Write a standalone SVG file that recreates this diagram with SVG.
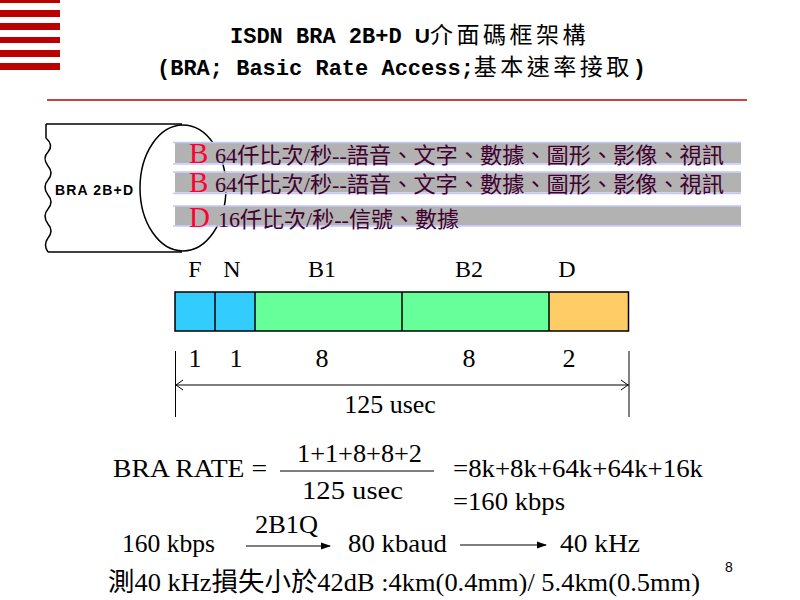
<svg xmlns="http://www.w3.org/2000/svg" width="800" height="600" viewBox="0 0 800 600">
<style>
.mono{font-family:"Liberation Mono","DejaVu Sans Mono",monospace;font-weight:bold;font-size:22px;fill:#000}
.cjk{font-family:"Noto Sans CJK TC","Noto Sans CJK SC",sans-serif;font-weight:normal}
.ser{font-family:"Liberation Serif","Noto Sans CJK TC",serif;fill:#000}
.bar{fill:#b2b2b2}
.barline{stroke:#c4c4ff;stroke-width:1.5}
.bartxt{font-family:"Liberation Serif","Noto Sans CJK TC",serif;font-size:22px;fill:#400030}
.red{font-family:"Liberation Serif",serif;font-size:29px;fill:#ff0033}
.ln{stroke:#000;stroke-width:1.5;fill:none}
.thin{stroke:#000;stroke-width:1;fill:none}
</style>
<defs>
<marker id="ah" markerWidth="10" markerHeight="8" refX="9" refY="4" orient="auto" markerUnits="userSpaceOnUse">
<path d="M0,0.5 L10,4 L0,7.5 Z" fill="#000"/>
</marker>
</defs>
<g id="stripes" fill="#bb0000">
<rect x="0" y="0" width="60" height="3"/>
<rect x="0" y="10" width="60" height="7"/>
<rect x="0" y="23" width="60" height="7"/>
<rect x="0" y="37" width="60" height="6"/>
<rect x="0" y="50" width="60" height="7"/>
<rect x="0" y="63" width="60" height="7"/>
</g>
<g id="title">
<text class="mono" x="230" y="43">ISDN BRA 2B+D <tspan font-family="Liberation Sans,sans-serif" font-size="21">U</tspan><tspan class="cjk" font-size="23" letter-spacing="3.5">介面碼框架構</tspan></text>
<text class="mono" x="157" y="75">(BRA; Basic Rate Access;<tspan class="cjk" font-size="23" letter-spacing="3.5">基本速率接取</tspan>)</text>
<line x1="47" y1="100" x2="747" y2="100" stroke="#c00000" stroke-width="1.5"/>
</g>
<g id="cable">
<line class="ln" x1="46" y1="124" x2="182" y2="124" stroke-width="2"/>
<line class="ln" x1="48" y1="252" x2="182" y2="252" stroke-width="2"/>
<path class="ln" d="M46,124 L46,138 Q54,145 48,152 Q42,158 48,166 Q54,173 48,180 Q42,187 48,195 Q54,202 48,209 Q42,216 48,224 Q54,231 48,238 Q43,245 48,252"/>
<ellipse class="ln" cx="183" cy="188" rx="43" ry="63" stroke-width="2"/>
<text x="55" y="195" font-family="Liberation Sans,Arial,sans-serif" font-weight="bold" font-size="14" letter-spacing="1" textLength="79" lengthAdjust="spacing">BRA 2B+D</text>
</g>
<g id="channels">
<rect class="bar" x="175" y="143" width="566" height="20"/>
<line class="barline" x1="173" y1="142.5" x2="741" y2="142.5"/>
<line class="barline" x1="173" y1="164" x2="741" y2="164"/>
<rect class="bar" x="175" y="172.5" width="566" height="20"/>
<line class="barline" x1="173" y1="172" x2="741" y2="172"/>
<line class="barline" x1="173" y1="193.5" x2="741" y2="193.5"/>
<rect class="bar" x="175" y="206" width="566" height="19.5"/>
<line class="barline" x1="173" y1="206" x2="741" y2="206"/>
<line class="barline" x1="173" y1="226" x2="741" y2="226"/>
<text class="red" x="189" y="163">B</text>
<text class="bartxt" x="215" y="163" textLength="509" lengthAdjust="spacingAndGlyphs">64仟比次/秒--語音、文字、數據、圖形、影像、視訊</text>
<text class="red" x="189" y="192">B</text>
<text class="bartxt" x="215" y="192" textLength="509" lengthAdjust="spacingAndGlyphs">64仟比次/秒--語音、文字、數據、圖形、影像、視訊</text>
<text class="red" x="189" y="227">D</text>
<text class="bartxt" x="218" y="227" textLength="241" lengthAdjust="spacingAndGlyphs">16仟比次/秒--信號、數據</text>
</g>
<g id="frame">
<rect x="175" y="292" width="40" height="39" fill="#33ccff"/>
<rect x="215" y="292" width="40" height="39" fill="#33ccff"/>
<rect x="255" y="292" width="147" height="39" fill="#66ff99"/>
<rect x="402" y="292" width="147" height="39" fill="#66ff99"/>
<rect x="549" y="292" width="79.5" height="39" fill="#ffcc66"/>
<rect class="ln" x="175" y="292" width="453.5" height="39"/>
<line class="ln" x1="215" y1="292" x2="215" y2="331"/>
<line class="ln" x1="255" y1="292" x2="255" y2="331"/>
<line class="ln" x1="402" y1="292" x2="402" y2="331"/>
<line class="ln" x1="549" y1="292" x2="549" y2="331"/>
<g class="ser" font-size="24" text-anchor="middle">
<text x="195" y="277">F</text>
<text x="232" y="277">N</text>
<text x="322" y="277">B1</text>
<text x="469" y="277">B2</text>
<text x="567" y="277">D</text>
</g>
<g class="ser" font-size="26" text-anchor="middle">
<text x="195" y="367">1</text>
<text x="236" y="367">1</text>
<text x="322" y="367">8</text>
<text x="469" y="367">8</text>
<text x="569" y="367">2</text>
<text x="390" y="413">125 usec</text>
</g>
</g>
<g id="connectors">
<line class="thin" x1="175.5" y1="351" x2="175.5" y2="417"/>
<line class="thin" x1="629" y1="351" x2="629" y2="417"/>
<line class="thin" x1="175.5" y1="385" x2="629" y2="385"/>
<path class="thin" d="M183,380 L176,385 L183,390"/>
<path class="thin" d="M621,380 L628,385 L621,390"/>
<line x1="246" y1="546" x2="330" y2="546" stroke="#000" stroke-width="1.2" marker-end="url(#ah)"/>
<line x1="460" y1="545" x2="546" y2="545" stroke="#000" stroke-width="1.2" marker-end="url(#ah)"/>
<line x1="280" y1="471" x2="434" y2="471" stroke="#000" stroke-width="1.2"/>
</g>
<g id="formula" class="ser" font-size="26">
<text x="113" y="477" textLength="154" lengthAdjust="spacingAndGlyphs">BRA RATE =</text>
<text x="297" y="462" textLength="125" lengthAdjust="spacingAndGlyphs">1+1+8+8+2</text>
<text x="302" y="499" textLength="101" lengthAdjust="spacingAndGlyphs">125 usec</text>
<text x="453" y="477" textLength="250" lengthAdjust="spacingAndGlyphs">=8k+8k+64k+64k+16k</text>
<text x="453" y="510" textLength="112" lengthAdjust="spacingAndGlyphs">=160 kbps</text>
<text x="122" y="552" textLength="93" lengthAdjust="spacingAndGlyphs">160 kbps</text>
<text x="255" y="533" textLength="63" lengthAdjust="spacingAndGlyphs">2B1Q</text>
<text x="348" y="552" textLength="99" lengthAdjust="spacingAndGlyphs">80 kbaud</text>
<text x="560" y="552" textLength="80" lengthAdjust="spacingAndGlyphs">40 kHz</text>
<text x="108" y="591" textLength="592" lengthAdjust="spacingAndGlyphs">測40 kHz損失小於42dB :4km(0.4mm)/ 5.4km(0.5mm)</text>
</g>
<text x="729" y="572" font-family="Liberation Sans,Arial,sans-serif" font-size="14" text-anchor="middle">8</text>
</svg>
